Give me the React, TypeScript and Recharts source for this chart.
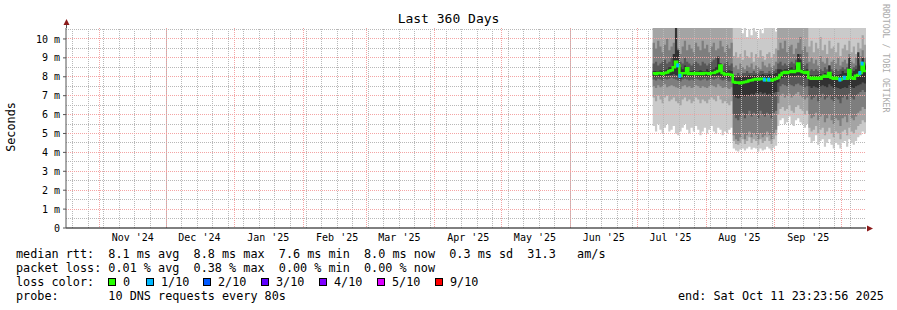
import { ComposedChart, Area, Line, Scatter, XAxis, YAxis, ReferenceLine, CartesianGrid } from "recharts"

const DAY = 86400000
const START = Date.UTC(2024, 9, 16, 23, 23, 56)
const END = Date.UTC(2025, 9, 11, 23, 23, 56)
const FIRST = Date.UTC(2025, 6, 8)
const toDay = (ms: number) => (ms - START) / DAY

const monthLabels = ["Nov '24", "Dec '24", "Jan '25", "Feb '25", "Mar '25", "Apr '25", "May '25", "Jun '25", "Jul '25", "Aug '25", "Sep '25"]
const yTicks = [0, 1, 2, 3, 4, 5, 6, 7, 8, 9, 10]
const yMinor = [0.5, 1.5, 2.5, 3.5, 4.5, 5.5, 6.5, 7.5, 8.5, 9.5, 10.5]

// sorted pings per day (ms), p1 = min ... p10 = max
// periods: Jul 8 - Aug 11 | Aug 12 - Aug 31 | Sep 1 - Sep 14 | Sep 15 - Oct 10
const p10 = [
  10.9, 10.9, 10.9, 10.9, 10.9, 10.9, 10.9, 10.9, 10.9, 10.9, 10.9, 10.9, 10.9, 10.9, 10.9, 10.9, 10.9, 10.9,
  10.9, 10.9, 10.9, 10.9, 10.9, 10.9, 10.9, 10.9, 10.9, 10.9, 10.9, 10.9, 10.9, 10.9, 10.9, 10.9, 10.9, 10.9,
  10.9, 10.9, 10.9, 10.9, 10.3, 10.6, 10.1, 10.5, 10.2, 10.6, 10.4, 10.0, 10.5, 10.3, 10.8, 10.9, 10.9, 10.6, 10.9, 10.4,
  10.9, 10.9, 10.9, 10.9, 10.9, 10.9, 10.9, 10.9, 10.9, 10.9, 10.9, 10.9, 10.9, 10.9,
  10.9, 10.9, 10.9, 10.9, 10.9, 10.9, 10.9, 10.9, 10.9, 10.9, 10.9, 10.9, 10.9, 10.9, 10.9, 10.9, 10.9, 10.9, 10.9, 10.9, 10.9, 10.9, 10.9, 10.9, 10.9, 10.9,
]
const p9 = [
  10.9, 10.9, 10.9, 10.9, 10.9, 10.9, 10.9, 10.9, 10.9, 10.9, 10.9, 10.9, 10.9, 10.9, 10.9, 10.9, 10.9, 10.9,
  10.9, 10.9, 10.9, 10.9, 10.9, 10.9, 10.9, 10.9, 10.9, 10.9, 10.9, 10.9, 10.9, 10.9, 10.9, 10.9, 10.9, 10.9,
  9.1, 9.3, 9.0, 9.2, 8.9, 9.4, 9.1, 9.0, 9.3, 8.8, 9.2, 9.0, 9.4, 9.1, 8.9, 9.2, 9.3, 9.0, 9.2, 9.5,
  10.9, 10.9, 10.9, 10.9, 10.9, 10.9, 10.9, 10.9, 10.9, 10.9, 10.9, 10.9, 10.9, 10.9,
  9.6, 9.9, 9.3, 9.8, 9.5, 10.1, 9.4, 9.7, 9.2, 9.9, 9.5, 9.6, 9.3, 9.8, 9.1, 9.5, 9.7, 9.4, 9.9, 9.3, 9.6, 9.2, 9.8, 9.5, 10.2, 9.7,
]
const p8 = [
  9.8, 9.5, 9.9, 9.6, 9.3, 9.7, 10.0, 9.4, 9.6, 9.8, 10.2, 9.5, 9.2, 9.6, 9.9, 9.4, 9.7, 9.5,
  9.3, 9.8, 9.6, 9.4, 9.9, 9.5, 9.7, 9.3, 9.6, 9.8, 9.4, 9.5, 9.9, 9.6, 9.3, 9.7, 9.5, 9.8,
  8.5, 8.6, 8.4, 8.7, 8.5, 8.4, 8.6, 8.5, 8.7, 8.4, 8.6, 8.5, 8.4, 8.8, 8.6, 8.5, 8.7, 8.5, 8.6, 8.8,
  9.4, 9.8, 9.5, 9.9, 9.3, 9.6, 9.7, 9.2, 9.5, 9.8, 10.1, 9.4, 9.6, 9.3,
  8.8, 9.0, 8.7, 8.9, 8.6, 9.1, 8.8, 8.7, 9.0, 8.6, 8.8, 8.9, 8.7, 9.0, 8.6, 8.8, 8.9, 8.7, 9.2, 8.8, 8.7, 9.0, 8.9, 9.1, 9.4, 9.0,
]
const p7 = [
  8.7, 8.8, 8.6, 8.7, 8.8, 8.9, 8.7, 8.8, 9.0, 9.1, 9.6, 9.2, 8.8, 8.7, 9.0, 8.8, 8.7, 8.6,
  8.7, 8.8, 8.7, 8.6, 8.8, 8.7, 8.6, 8.7, 8.8, 8.9, 9.0, 9.1, 8.7, 8.6, 8.7, 8.8, 8.6, 8.7,
  8.1, 8.1, 8.2, 8.1, 8.2, 8.2, 8.3, 8.2, 8.2, 8.3, 8.2, 8.2, 8.3, 8.3, 8.2, 8.2, 8.3, 8.2, 8.3, 8.4,
  8.7, 8.8, 8.6, 8.7, 8.6, 8.7, 8.8, 8.7, 8.9, 9.0, 9.2, 8.7, 8.6, 8.7,
  8.3, 8.4, 8.3, 8.4, 8.3, 8.4, 8.3, 8.5, 8.4, 8.6, 8.4, 8.3, 8.4, 8.3, 8.4, 8.5, 8.4, 8.5, 8.7, 8.4, 8.5, 8.6, 8.5, 8.7, 8.9, 8.7,
]
const p6 = [
  8.3, 8.3, 8.3, 8.35, 8.3, 8.35, 8.4, 8.5, 8.5, 9.2, 10.6, 9.4, 8.5, 8.4, 8.6, 8.4, 8.3, 8.3,
  8.35, 8.3, 8.3, 8.35, 8.3, 8.3, 8.4, 8.3, 8.35, 8.4, 8.5, 9.0, 8.7, 8.3, 8.3, 8.3, 8.35, 8.3,
  8.0, 7.95, 8.0, 8.0, 8.05, 8.0, 8.05, 8.1, 8.05, 8.1, 8.1, 8.05, 8.1, 8.15, 8.1, 8.1, 8.15, 8.1, 8.15, 8.2,
  8.4, 8.4, 8.35, 8.4, 8.4, 8.45, 8.5, 8.4, 8.6, 9.2, 8.9, 8.4, 8.35, 8.4,
  8.1, 8.1, 8.05, 8.1, 8.1, 8.15, 8.1, 8.2, 8.15, 8.6, 8.2, 8.1, 8.1, 8.1, 8.15, 8.3, 8.2, 8.2, 9.0, 8.2, 8.3, 8.4, 9.3, 8.6, 9.0, 8.6,
]
const p5 = [
  8.0, 8.0, 8.05, 8.0, 8.0, 8.05, 8.05, 8.1, 8.1, 8.15, 8.1, 8.05, 7.9, 8.0, 8.0, 8.1, 8.0, 8.0,
  8.0, 8.05, 8.0, 8.0, 8.0, 8.05, 8.0, 8.0, 8.05, 8.05, 8.05, 8.1, 8.05, 7.95, 8.0, 7.95, 7.95, 8.0,
  7.0, 6.9, 6.85, 6.9, 7.0, 6.95, 7.05, 7.0, 7.1, 7.05, 7.15, 7.1, 7.2, 7.1, 7.15, 7.05, 7.1, 7.0, 7.15, 7.2,
  7.7, 7.9, 7.95, 8.0, 7.95, 8.0, 8.05, 8.0, 8.05, 8.1, 8.05, 8.0, 7.95, 8.0,
  7.5, 7.4, 7.5, 7.45, 7.4, 7.5, 7.55, 7.5, 7.45, 7.6, 7.5, 7.4, 7.45, 7.4, 7.35, 7.4, 7.45, 7.4, 7.55, 7.45, 7.4, 7.5, 7.55, 7.6, 7.7, 7.65,
]
const p4 = [
  7.85, 7.8, 7.9, 7.85, 7.8, 7.9, 7.85, 7.9, 7.95, 7.9, 7.85, 7.8, 7.75, 7.85, 7.9, 7.85, 7.8, 7.85,
  7.8, 7.9, 7.85, 7.8, 7.85, 7.9, 7.8, 7.85, 7.9, 7.85, 7.9, 7.95, 7.85, 7.8, 7.85, 7.8, 7.75, 7.8,
  6.0, 5.8, 5.7, 5.9, 6.1, 5.8, 6.0, 6.2, 5.9, 6.1, 6.0, 5.8, 6.2, 6.0, 5.9, 6.1, 6.0, 5.8, 6.1, 6.2,
  7.2, 7.5, 7.6, 7.55, 7.5, 7.6, 7.55, 7.5, 7.6, 7.65, 7.55, 7.5, 7.45, 7.5,
  7.0, 6.8, 6.9, 7.0, 6.7, 6.9, 7.1, 6.8, 6.9, 7.0, 6.8, 6.7, 6.9, 6.8, 6.6, 6.9, 7.0, 6.8, 7.1, 6.9, 6.8, 7.0, 7.1, 7.2, 7.3, 7.2,
]
const p3 = [
  7.5, 7.4, 7.55, 7.45, 7.5, 7.6, 7.45, 7.5, 7.55, 7.5, 7.45, 7.4, 7.35, 7.5, 7.55, 7.45, 7.5, 7.4,
  7.45, 7.55, 7.5, 7.4, 7.5, 7.45, 7.4, 7.5, 7.55, 7.5, 7.45, 7.6, 7.5, 7.4, 7.45, 7.4, 7.35, 7.45,
  4.9, 4.7, 4.6, 4.8, 5.0, 4.7, 4.9, 5.1, 4.8, 5.0, 4.9, 4.7, 5.0, 4.8, 4.9, 5.1, 4.9, 4.7, 5.0, 5.2,
  6.6, 7.0, 7.1, 6.9, 7.0, 7.1, 6.9, 7.0, 7.1, 7.2, 7.0, 6.9, 6.8, 6.9,
  6.0, 5.8, 5.9, 6.1, 5.7, 5.9, 6.0, 5.6, 5.8, 6.0, 5.7, 5.5, 5.8, 5.7, 5.4, 5.8, 5.9, 5.6, 6.0, 5.8, 5.7, 5.9, 6.1, 6.2, 6.4, 6.3,
]
const p2 = [
  6.9, 6.7, 7.0, 6.8, 6.6, 6.9, 7.0, 6.7, 6.8, 6.9, 6.7, 6.6, 6.5, 6.8, 6.9, 6.7, 6.8, 6.6,
  6.7, 6.9, 6.8, 6.6, 6.8, 6.7, 6.6, 6.8, 6.9, 6.8, 6.7, 7.0, 6.8, 6.6, 6.7, 6.6, 6.5, 6.7,
  4.6, 4.45, 4.4, 4.5, 4.7, 4.45, 4.6, 4.8, 4.5, 4.7, 4.6, 4.4, 4.7, 4.5, 4.6, 4.8, 4.6, 4.45, 4.7, 4.9,
  6.0, 6.3, 6.4, 6.2, 6.3, 6.5, 6.2, 6.1, 6.4, 6.5, 6.3, 6.2, 6.0, 6.2,
  5.3, 5.1, 5.2, 5.4, 5.0, 5.2, 5.3, 4.9, 5.1, 5.3, 5.0, 4.8, 5.1, 5.0, 4.7, 5.1, 5.2, 4.9, 5.3, 5.1, 5.0, 5.2, 5.4, 5.5, 5.7, 5.6,
]
const p1 = [
  5.4, 5.1, 5.5, 5.2, 5.0, 5.3, 5.5, 5.1, 5.2, 5.4, 5.0, 4.9, 5.1, 5.3, 5.5, 5.2, 5.0, 5.3,
  5.1, 5.4, 5.2, 4.9, 5.1, 5.3, 5.0, 5.2, 5.4, 5.1, 5.0, 5.3, 5.2, 4.9, 5.1, 5.0, 5.2, 5.3,
  4.2, 4.1, 4.05, 4.15, 4.2, 4.1, 4.2, 4.3, 4.15, 4.25, 4.2, 4.05, 4.2, 4.1, 4.15, 4.3, 4.2, 4.1, 4.25, 4.35,
  5.4, 5.7, 5.8, 5.5, 5.6, 5.9, 5.5, 5.4, 5.7, 5.8, 5.6, 5.5, 5.3, 5.5,
  4.8, 4.5, 4.6, 4.9, 4.4, 4.6, 4.7, 4.3, 4.5, 4.7, 4.4, 4.2, 4.5, 4.4, 4.2, 4.5, 4.6, 4.3, 4.7, 4.5, 4.4, 4.6, 4.8, 4.9, 5.1, 5.0,
]
const median = [
  8.18, 8.15, 8.2, 8.18, 8.15, 8.2, 8.22, 8.3, 8.35, 8.5, 8.8, 8.6, 8.05, 8.18, 8.18, 8.45, 8.15, 8.18,
  8.15, 8.2, 8.15, 8.18, 8.15, 8.2, 8.18, 8.15, 8.2, 8.2, 8.25, 8.3, 8.6, 8.2, 8.12, 8.15, 8.12, 8.1,
  7.72, 7.68, 7.7, 7.66, 7.7, 7.72, 7.75, 7.8, 7.82, 7.85, 7.88, 7.85, 7.9, 7.88, 7.85, 7.82, 7.85, 7.8, 7.85, 7.9,
  7.95, 8.1, 8.2, 8.25, 8.2, 8.25, 8.3, 8.25, 8.3, 8.7, 8.3, 8.25, 8.2, 8.25,
  7.95, 7.9, 7.95, 7.9, 7.95, 7.9, 8.0, 8.05, 8.0, 8.2, 7.95, 7.9, 7.95, 7.9, 7.85, 7.9, 7.95, 7.9, 8.36, 7.95, 7.9, 8.05, 8.1, 8.2, 8.7, 8.3,
]
// lost pings out of 10
const loss = [
  0, 0, 0, 0, 0, 0, 0, 0, 0, 0, 0, 1, 1, 0, 0, 0, 0, 0,
  0, 0, 0, 0, 0, 0, 0, 0, 0, 0, 0, 0, 0, 0, 0, 0, 0, 0,
  0, 0, 0, 0, 0, 0, 0, 0, 0, 0, 0, 0, 0, 0, 1, 0, 1, 0, 0, 0,
  0, 0, 0, 0, 0, 0, 0, 0, 0, 0, 0, 0, 0, 0,
  0, 0, 0, 0, 0, 0, 0, 0, 0, 0, 0, 0, 0, 0, 1, 0, 1, 0, 0, 0, 0, 0, 0, 1, 1, 0,
]

const lossLabels = ["0", "1/10", "2/10", "3/10", "4/10", "5/10", "9/10"]
const lossColors = ["#26ff00", "#00b8ff", "#0059ff", "#5e00ff", "#7e00ff", "#dd00ff", "#ff0000"]
const smoke = ["#cacaca", "#a4a4a4", "#7e7e7e", "#585858", "#323232"]

const rows = median.map((m, i) => ({
  t: toDay(FIRST + i * DAY),
  b1: [p1[i], p10[i]],
  b2: [p2[i], p9[i]],
  b3: [p3[i], p8[i]],
  b4: [p4[i], p7[i]],
  b5: [p5[i], p6[i]],
  med: m,
  loss: loss[i],
}))
const data = [...rows, { ...rows[rows.length - 1], t: toDay(END) }]
const lossRows = rows.filter((r) => r.loss > 0)

const monthStarts = [...monthLabels.map((_, k) => toDay(Date.UTC(2024, 10 + k, 1))), toDay(Date.UTC(2025, 9, 1))]
const monthMids = monthLabels.map((_, k) => toDay(Date.UTC(2024, 10 + k, 16)))
// Sundays
const weeks: number[] = []
for (let k = 0; toDay(Date.UTC(2024, 9, 20 + 7 * k)) < 360; k++) weeks.push(toDay(Date.UTC(2024, 9, 20 + 7 * k)))

const mono = "'DejaVu Sans Mono', monospace"
const minorGrid = { stroke: "#b8b8b8", strokeWidth: 1, strokeDasharray: "1 1", shapeRendering: "crispEdges" }
const majorGrid = { stroke: "#f4a4a4", strokeWidth: 1, strokeDasharray: "1 1", shapeRendering: "crispEdges" }

const txt: React.CSSProperties = { position: "absolute", fontFamily: mono, fontSize: 11.8, lineHeight: "14px", whiteSpace: "pre", color: "#000" }

const App = () => {
  return (
    <div style={{ position: "absolute", left: 0, top: 0, width: 897, height: 310, background: "#fff", overflow: "hidden" }}>
      <ComposedChart width={897} height={310} data={data} margin={{ top: 28, right: 31, bottom: 0, left: 0 }}>
        <XAxis
          dataKey="t"
          type="number"
          domain={[0, 360]}
          ticks={monthMids}
          interval={0}
          tickFormatter={(v) => monthLabels[monthMids.indexOf(v)] ?? ""}
          height={82}
          tickSize={0}
          tickMargin={6}
          axisLine={{ stroke: "#000" }}
          tick={{ fontFamily: mono, fontSize: 10, fill: "#000" }}
        />
        <YAxis
          type="number"
          domain={[0, 10.58]}
          allowDataOverflow
          ticks={yTicks}
          interval={0}
          tickFormatter={(v) => (v === 0 ? "0" : `${v} m`)}
          width={66}
          tickSize={3}
          tickMargin={3}
          axisLine={{ stroke: "#555" }}
          tickLine={{ stroke: "#555" }}
          tick={{ fontFamily: mono, fontSize: 10, fill: "#000" }}
        />
        <CartesianGrid vertical={false} horizontalValues={yMinor} {...minorGrid} />
        <CartesianGrid horizontal={false} verticalValues={monthStarts} {...majorGrid} />
        {smoke.map((c, k) => (
          <Area
            key={c}
            type="stepAfter"
            dataKey={`b${k + 1}`}
            stroke="none"
            fill={c}
            fillOpacity={1}
            dot={false}
            activeDot={false}
            isAnimationActive={false}
          />
        ))}
        {weeks.map((v) => (
          <ReferenceLine key={`w${v}`} x={v} {...minorGrid} />
        ))}
        {yTicks.slice(1).map((v) => (
          <ReferenceLine key={`y${v}`} y={v} {...majorGrid} />
        ))}
        <Line type="stepAfter" dataKey="med" stroke={lossColors[0]} strokeWidth={2.5} dot={false} activeDot={false} isAnimationActive={false} />
        <Scatter
          data={lossRows}
          dataKey="med"
          isAnimationActive={false}
          shape={(p: any) => <rect x={p.cx - 1} y={p.cy - 2} width={3} height={4} fill={lossColors[p.payload.loss]} />}
        />
      </ComposedChart>

      <svg width={897} height={310} style={{ position: "absolute", left: 0, top: 0, pointerEvents: "none" }}>
        <line x1={66.5} y1={24} x2={66.5} y2={28} stroke="#555" />
        <polygon points="66.5,19 63.5,25 69.5,25" fill="#8b1a1a" />
        <polygon points="873,228.5 867,225.5 867,231.5" fill="#8b1a1a" />
      </svg>

      <div style={{ ...txt, left: 0, width: 897, top: 11, fontSize: 13, lineHeight: "15px", textAlign: "center" }}>Last 360 Days</div>
      <div style={{ ...txt, left: -19, top: 120, width: 60, textAlign: "center", transform: "rotate(-90deg)" }}>Seconds</div>
      <div style={{ ...txt, left: 881, top: 4, fontSize: 8.2, lineHeight: "10px", color: "#aaa", writingMode: "vertical-rl" }}>RRDTOOL / TOBI OETIKER</div>

      <div style={{ ...txt, left: 16, top: 247 }}>
        {"median rtt:  8.1 ms avg  8.8 ms max  7.6 ms min  8.0 ms now  0.3 ms sd  31.3   am/s\n"}
        {"packet loss: 0.01 % avg  0.38 % max  0.00 % min  0.00 % now\n"}
        {"loss color:\n"}
        {"probe:       10 DNS requests every 80s"}
      </div>
      {lossLabels.map((l, k) => {
        const boxX = [108, 146, 203, 261, 319, 377, 435][k]
        return (
          <div key={l}>
            <div style={{ position: "absolute", left: boxX, top: 278, width: 8, height: 8, background: lossColors[k], border: "1px solid #000", boxSizing: "border-box" }} />
            <div style={{ ...txt, left: boxX + 15, top: 275 }}>{l}</div>
          </div>
        )
      })}
      <div style={{ ...txt, left: 678, top: 289 }}>end: Sat Oct 11 23:23:56 2025</div>
    </div>
  )
}

export default App
